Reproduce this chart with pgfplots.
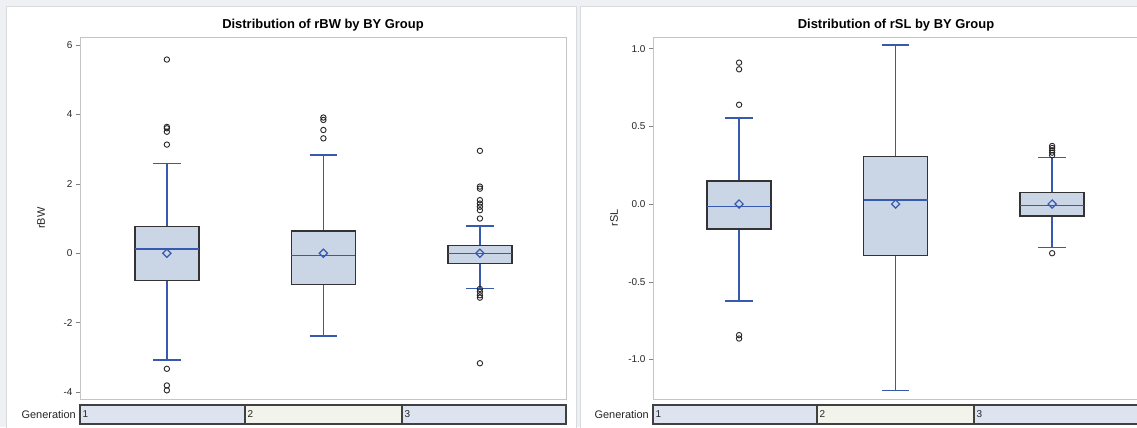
\documentclass[border=0pt]{standalone}
\usepackage{pgfplots}
\pgfplotsset{compat=1.18}
\usepgfplotslibrary{statistics}
\usepackage{fontspec}
\setmainfont{Liberation Sans}
\definecolor{boxfill}{HTML}{CAD5E5}
\definecolor{sasblue}{RGB}{55,90,175}
\definecolor{cellA}{HTML}{DEE4EF}
\definecolor{cellB}{HTML}{F2F3EB}
\definecolor{bggray}{HTML}{EEF0F3}
\definecolor{framegray}{HTML}{C4C4C4}
\definecolor{panelgray}{HTML}{D8DADD}
\pgfplotsset{
  sasaxis/.style={
    scale only axis, width=486bp, height=362bp, anchor=south west,
    xtick=\empty, tick pos=left, tick align=outside,
    major tick length=4bp,
    axis line style={framegray, line width=0.8pt},
    ytick style={draw=gray, line width=0.5pt},
    /pgf/number format/assume math mode=true,
    yticklabel style={font=\fontsize{10}{12}\selectfont, text=black!85},
    every axis y label/.style={at={(axis description cs:0,0.5)}, xshift=-39bp, rotate=90, anchor=center, font=\fontsize{11}{13}\selectfont, text=black!85},
    every axis title/.style={at={(axis description cs:0.5,1)}, anchor=base, yshift=8bp, font=\fontsize{13}{15}\selectfont\bfseries},
    boxplot/draw direction=y,
  },
  sasbox/.style={
    boxplot/every box/.style={draw=black!80, fill=boxfill, line width=1.5bp},
    boxplot/every median/.style={draw=sasblue, line width=1.5bp},
    boxplot/every whisker/.style={draw=sasblue, line width=1.5bp},
  },
  outl/.style={only marks, mark=o, mark size=2.7bp, black!85, mark options={line width=0.9pt}},
  meanmk/.style={only marks, mark=square, mark size=2.9bp, sasblue, mark options={rotate=45, line width=1.2pt}},
}
\begin{document}
\begin{tikzpicture}[x=1bp,y=1bp]
\useasboundingbox (0,0) rectangle (1137,427);
\fill[bggray] (0,0) rectangle (1137,427);
\filldraw[fill=white, draw=panelgray, line width=1pt] (6.5,-5) rectangle (576.5,420.5);
\filldraw[fill=white, draw=panelgray, line width=1pt] (580.5,-5) rectangle (1150,420.5);
\coordinate (LA) at (80,28);
\coordinate (RA) at (653,28);

% ---------- left panel ----------
\begin{axis}[sasaxis, at={(LA)},
  xmin=0.445, xmax=3.55, ymin=-4.2, ymax=6.23,
  ytick={-4,-2,0,2,4,6},
  ylabel={rBW}, title={Distribution of rBW by BY Group}]
\addplot[sasbox, boxplot prepared={draw position=1, lower whisker=-3.07, lower quartile=-0.78, median=0.125, upper quartile=0.77, upper whisker=2.59, box extend=0.41, whisker extend=0.175}] coordinates {};
\addplot[sasbox, boxplot prepared={draw position=2, lower whisker=-2.38, lower quartile=-0.90, median=-0.06, upper quartile=0.64, upper whisker=2.83, box extend=0.41, whisker extend=0.175}] coordinates {};
\addplot[sasbox, boxplot prepared={draw position=3, lower whisker=-1.02, lower quartile=-0.30, median=-0.01, upper quartile=0.22, upper whisker=0.79, box extend=0.41, whisker extend=0.175}] coordinates {};
\addplot[outl] coordinates {(1,5.58) (1,3.64) (1,3.60) (1,3.50) (1,3.13) (1,-3.33) (1,-3.81) (1,-3.95)
  (2,3.91) (2,3.84) (2,3.55) (2,3.31)
  (3,2.95) (3,1.92) (3,1.86) (3,1.53) (3,1.43) (3,1.34) (3,1.24) (3,1.00) (3,-1.03) (3,-1.11) (3,-1.21) (3,-1.28) (3,-3.17)};
\addplot[meanmk] coordinates {(1,0) (2,0) (3,0)};
\end{axis}

% ---------- right panel ----------
\begin{axis}[sasaxis, at={(RA)},
  xmin=0.45, xmax=3.555, ymin=-1.254, ymax=1.075,
  ytick={-1,-0.5,0,0.5,1},
  yticklabel style={/pgf/number format/.cd, fixed, fixed zerofill, precision=1},
  ylabel={rSL}, title={Distribution of rSL by BY Group}]
\addplot[sasbox, boxplot prepared={draw position=1, lower whisker=-0.624, lower quartile=-0.159, median=-0.017, upper quartile=0.150, upper whisker=0.553, box extend=0.41, whisker extend=0.175}] coordinates {};
\addplot[sasbox, boxplot prepared={draw position=2, lower whisker=-1.20, lower quartile=-0.331, median=0.026, upper quartile=0.305, upper whisker=1.024, box extend=0.41, whisker extend=0.175}] coordinates {};
\addplot[sasbox, boxplot prepared={draw position=3, lower whisker=-0.28, lower quartile=-0.077, median=-0.009, upper quartile=0.075, upper whisker=0.301, box extend=0.41, whisker extend=0.175}] coordinates {};
\addplot[outl] coordinates {(1,0.910) (1,0.867) (1,0.639) (1,-0.843) (1,-0.865)
  (3,0.374) (3,0.361) (3,0.346) (3,0.331) (3,0.314) (3,-0.316)};
\addplot[meanmk] coordinates {(1,0) (2,0) (3,0)};
\end{axis}

% ---------- Generation strips ----------
\begin{scope}[every node/.style={font=\fontsize{10}{12}\selectfont, text=black!85, inner sep=0pt}]
\filldraw[fill=cellA, draw=black!75, line width=1.2pt] (80,3) rectangle (245,22);
\filldraw[fill=cellB, draw=black!75, line width=1.2pt] (245,3) rectangle (402,22);
\filldraw[fill=cellA, draw=black!75, line width=1.2pt] (402,3) rectangle (566,22);
\node[anchor=east, font=\fontsize{11}{13}\selectfont] at (76,12.5) {Generation};
\node[anchor=west] at (82.5,12.5) {1};
\node[anchor=west] at (247.5,12.5) {2};
\node[anchor=west] at (404.5,12.5) {3};
\filldraw[fill=cellA, draw=black!75, line width=1.2pt] (653,3) rectangle (817,22);
\filldraw[fill=cellB, draw=black!75, line width=1.2pt] (817,3) rectangle (974,22);
\filldraw[fill=cellA, draw=black!75, line width=1.2pt] (974,3) rectangle (1145,22);
\node[anchor=east, font=\fontsize{11}{13}\selectfont] at (649,12.5) {Generation};
\node[anchor=west] at (655.5,12.5) {1};
\node[anchor=west] at (819.5,12.5) {2};
\node[anchor=west] at (976.5,12.5) {3};
\end{scope}
\end{tikzpicture}
\end{document}
